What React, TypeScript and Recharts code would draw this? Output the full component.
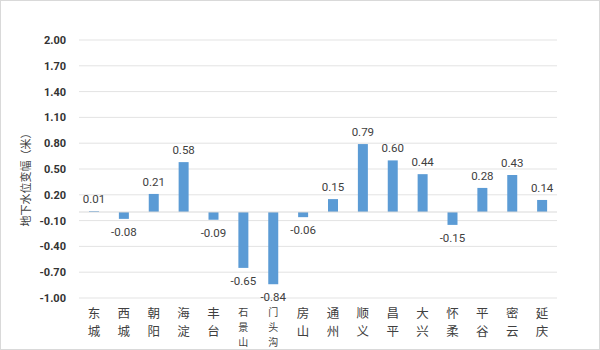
import React from 'react';
import { BarChart, Bar, XAxis, YAxis, CartesianGrid, ReferenceLine, LabelList } from 'recharts';

const categories = ['东城', '西城', '朝阳', '海淀', '丰台', '石景山', '门头沟', '房山', '通州', '顺义', '昌平', '大兴', '怀柔', '平谷', '密云', '延庆'];
const values = [0.01, -0.08, 0.21, 0.58, -0.09, -0.65, -0.84, -0.06, 0.15, 0.79, 0.6, 0.44, -0.15, 0.28, 0.43, 0.14];
const yTicks = [-1.0, -0.7, -0.4, -0.1, 0.2, 0.5, 0.8, 1.1, 1.4, 1.7, 2.0];
const yLabel = '地下水位变幅（米）';

const data = categories.map((name, i) => ({ name, value: values[i] }));

const CategoryTick = (props: any) => {
  const { x, y, payload } = props;
  const chars: string[] = Array.from(String(payload.value));
  const three = chars.length > 2;
  const step = three ? 14.8 : 18;
  const fs = three ? 10 : 12.5;
  return (
    <text
      x={x}
      y={y + (three ? 13 : 14)}
      textAnchor="middle"
      dominantBaseline="central"
      fontSize={fs}
      fill="#404040"
      fontFamily="'Noto Sans CJK SC', sans-serif"
    >
      {chars.map((c, i) => (
        <tspan key={i} x={x} dy={i === 0 ? 0 : step}>
          {c}
        </tspan>
      ))}
    </text>
  );
};

const ValueLabel = (props: any) => {
  const { x, y, width, height, value } = props;
  const top = Math.min(y, y + height);
  const bottom = Math.max(y, y + height);
  const cy = value >= 0 ? top - 12 : bottom + 13;
  return (
    <text
      x={x + width / 2}
      y={cy}
      textAnchor="middle"
      dominantBaseline="central"
      fontSize={11.5}
      fill="#404040"
      fontFamily="Roboto, sans-serif"
    >
      {Number(value).toFixed(2)}
    </text>
  );
};

const YLabel = (props: any) => {
  const { viewBox } = props;
  const cx = viewBox.x + 25;
  const cy = viewBox.y + viewBox.height / 2 + 8;
  return (
    <text
      x={cx}
      y={cy}
      transform={`rotate(-90, ${cx}, ${cy})`}
      textAnchor="middle"
      dominantBaseline="central"
      fontSize={11}
      fill="#404040"
      fontFamily="'Noto Sans CJK SC', sans-serif"
    >
      {yLabel}
    </text>
  );
};

export default function App() {
  return (
    <div
      style={{
        position: 'absolute',
        left: 0,
        top: 0,
        width: 600,
        height: 350,
        boxSizing: 'border-box',
        border: '1px solid #d9d9d9',
        background: '#fff',
      }}
    >
      <div style={{ position: 'absolute', left: -1, top: -1 }}>
        <BarChart
          width={600}
          height={350}
          data={data}
          margin={{ top: 40, right: 43, bottom: 0, left: 0 }}
          barSize={10}
        >
          <CartesianGrid vertical={false} stroke="#e3e3e3" />
          <XAxis
            dataKey="name"
            height={52}
            tickLine={false}
            axisLine={false}
            tickSize={0}
            tickMargin={0}
            interval={0}
            tick={<CategoryTick />}
          />
          <YAxis
            width={79}
            domain={[-1, 2]}
            ticks={yTicks}
            tickLine={false}
            axisLine={false}
            tickSize={0}
            tickMargin={13}
            interval={0}
            tickFormatter={(v: number) => v.toFixed(2)}
            tick={{ fontSize: 11, fontWeight: 'bold', fill: '#333', fontFamily: 'Roboto, sans-serif' }}
            label={<YLabel />}
          />
          <ReferenceLine y={0} stroke="#d9d9d9" />
          <Bar dataKey="value" fill="#5b9bd5" isAnimationActive={false}>
            <LabelList dataKey="value" content={<ValueLabel />} />
          </Bar>
        </BarChart>
      </div>
    </div>
  );
}
